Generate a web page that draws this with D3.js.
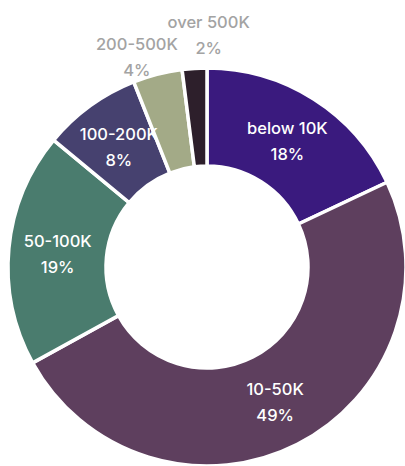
<!DOCTYPE html>
<html>
<head>
<meta charset="utf-8">
<script src="https://cdn.jsdelivr.net/npm/d3@7"></script>
<style>
  html, body { margin: 0; padding: 0; background: #ffffff; }
  svg { display: block; }
  text { font-family: Inter, "Open Sans", sans-serif; }
</style>
</head>
<body>
<svg id="chart" width="405" height="466"></svg>
<script>
const categories = ["below 10K", "10-50K", "50-100K", "100-200K", "200-500K", "over 500K"];
const values = [18, 49, 19, 8, 4, 2];
const colors = ["#3a1a7e", "#5e3f5e", "#4a7c6e", "#46416f", "#a3aa87", "#2d1f2b"];
const outside = [false, false, false, false, true, true];

const width = 405, height = 466;
const cx = 207, cy = 267;
const outerR = 199, innerR = 101;

const svg = d3.select("#chart");
const g = svg.append("g").attr("transform", `translate(${cx},${cy})`);

const data = categories.map((c, i) => ({ cat: c, value: values[i], color: colors[i], outside: outside[i] }));

const pie = d3.pie().value(d => d.value).sort(null);
const arcs = pie(data);

const arc = d3.arc().innerRadius(innerR).outerRadius(outerR);
const labelArc = d3.arc().innerRadius(150).outerRadius(150);

g.selectAll("path.slice")
  .data(arcs)
  .join("path")
  .attr("class", "slice")
  .attr("d", arc)
  .attr("fill", d => d.data.color)
  .attr("stroke", "#ffffff")
  .attr("stroke-width", 3.5)
  .attr("stroke-linejoin", "miter");

// label placement for outside labels: radius and angle nudge (radians)
const outsideOffsets = { "200-500K": { r: 222, da: -0.07 }, "over 500K": { r: 233, da: 0.07 } };

const labels = g.selectAll("g.lbl")
  .data(arcs)
  .join("g")
  .attr("class", "lbl")
  .attr("transform", d => {
    if (!d.data.outside) {
      const [x, y] = labelArc.centroid(d);
      return `translate(${x},${y})`;
    }
    const o = outsideOffsets[d.data.cat];
    const a = (d.startAngle + d.endAngle) / 2 + o.da;
    return `translate(${o.r * Math.sin(a)},${-o.r * Math.cos(a)})`;
  });

labels.append("text")
  .attr("text-anchor", "middle")
  .attr("y", -6)
  .attr("font-size", 16.5)
  .attr("font-weight", 500)
  .attr("fill", d => d.data.outside ? "#a3a3a3" : "#ffffff")
  .text(d => d.data.cat);

labels.append("text")
  .attr("text-anchor", "middle")
  .attr("y", 20)
  .attr("font-size", 16.5)
  .attr("font-weight", 500)
  .attr("fill", d => d.data.outside ? "#a3a3a3" : "#ffffff")
  .text(d => d.data.value + "%");
</script>
</body>
</html>
